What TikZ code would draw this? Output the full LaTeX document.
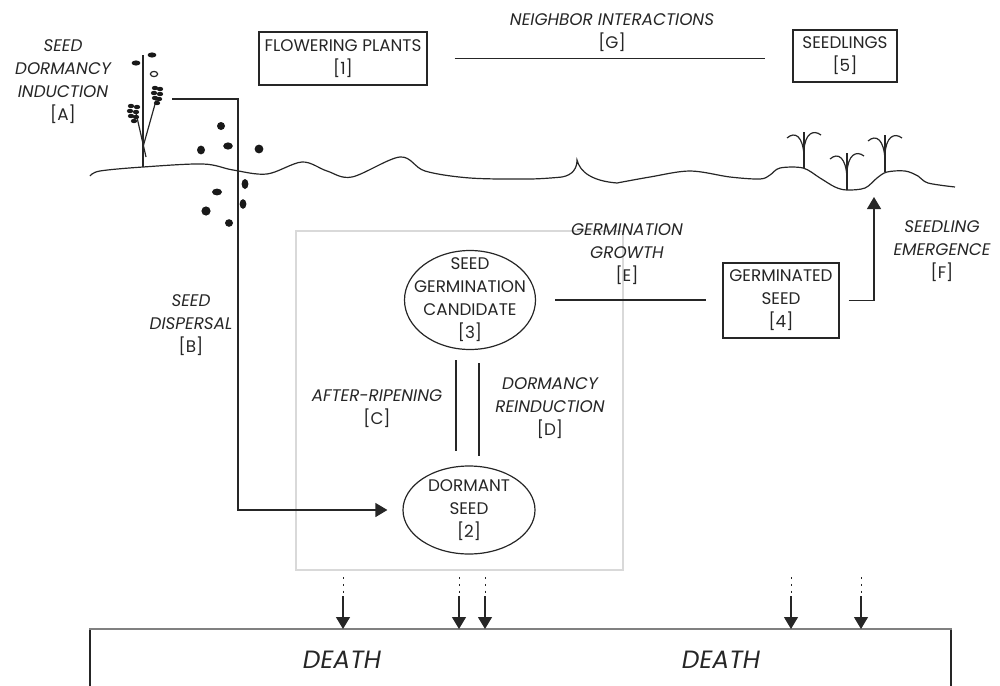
\documentclass[tikz,border=0pt]{standalone}
\usepackage{fontspec}
\setmainfont{Poppins}
\usetikzlibrary{shapes.geometric, arrows.meta, positioning}

\begin{document}
\begin{tikzpicture}[x=0.5pt, y=-0.5pt,
        every node/.style={font=\fontsize{8.4}{11.5}\selectfont, text=black!85},
        stage/.style={rectangle, draw=black!85, line width=0.6pt, align=center, inner sep=0pt},
        state/.style={ellipse, draw=black!85, line width=0.6pt, inner sep=0pt},
        statetext/.style={align=center, inner sep=0pt},
        note/.style={align=center, inner sep=0pt, font=\fontsize{8.4}{11.5}\selectfont\itshape},
        doom/.style={inner sep=0pt, font=\fontsize{12.5}{15}\selectfont\itshape},
        link/.style={draw=black!85, line width=0.6pt},
        arr/.style={link, -{Triangle[length=6pt, width=7pt]}},
        seed/.style={fill=black!90}
    ]
        \useasboundingbox (0,0) rectangle (1000,685);

        % Ground surface
        \draw[link] plot[smooth, tension=0.55] coordinates {(90,176) (100,171) (143,167) (203,164) (233,170) (267,174) (302,162) (327,171) (352,177) (400,157) (425,171) (470,178) (530,179) (562,177)}
            .. controls (573,175) and (577,168) .. (577,160)
            .. controls (580,172) and (592,181) .. (617,183)
            -- plot[smooth, tension=0.55] coordinates {(617,183) (650,177) (690,171) (730,177) (760,179) (770,175) (780,168) (803,168) (820,178) (835,187) (847,190) (865,188) (877,178) (887,172) (905,171) (918,176) (928,183) (955,187)};

        % Parent plant with its seeds
        \draw[link] (143,55) -- (143,167);
        \draw[link] (146,157) -- (136,113);
        \draw[link] (143,147) -- (157,97);
        \foreach \dx/\dy in {-3/-6, 3/-5, -4/-1, 2/0, -3/4, 2/5, 0/9}
            \fill[seed] (134+\dx,112+\dy) ellipse [x radius=1.6pt, y radius=1.1pt];
        \foreach \dx/\dy in {-2/-7, 3/-6, -3/-2, 3/-1, -2/3, 2/4, 0/8}
            \fill[seed] (157+\dx,95+\dy) ellipse [x radius=1.6pt, y radius=1.1pt];
        \fill[seed] (136,63) ellipse [x radius=2.2pt, y radius=1.3pt];
        \fill[seed] (152,55) ellipse [x radius=2.2pt, y radius=1.3pt];
        \draw[link] (154,74) ellipse [x radius=1.8pt, y radius=1.3pt];
        \foreach \sx/\sy/\rx/\ry in {221/126/2/2, 201/150/2/2.2, 228/146/2.4/1.8, 259/149/2.2/2.2, 245/184/1.7/2.5, 217/192/2.5/1.7, 243/204/1.7/2.4, 206/211/2.3/2.3, 229/223/2/1.9}
            \fill[seed] (\sx,\sy) ellipse [x radius=\rx pt, y radius=\ry pt];

        % Seedlings
        \foreach \sx/\sy/\st in {804/168/132, 847/190/153, 885/172/135} {
            \draw[link] (\sx,\sy) -- (\sx,\st);
            \draw[link] (\sx,\sy-12) .. controls (\sx-1,\st+4) and (\sx-9,\st-1) .. (\sx-17,\st+6);
            \draw[link] (\sx,\sy-18) .. controls (\sx+1,\st+2) and (\sx+9,\st-3) .. (\sx+17,\st+3);
        }

        % Seed bank frame
        \node (bank) [rectangle, draw=black!15, line width=0.6pt, minimum width=163.5pt, minimum height=169.5pt] at (459.5,400.5) {};

        % Life stages
        \node (flower) [stage, minimum width=84pt, minimum height=26.5pt] at (343,58.5) {FLOWERING PLANTS\\{[1]}};
        \node (seedl) [stage, minimum width=52pt, minimum height=26pt] at (845,56) {SEEDLINGS\\{[5]}};
        \node (germ) [stage, minimum width=58pt, minimum height=37.5pt] at (781,300.5) {GERMINATED\\SEED\\{[4]}};
        \node (cand) [state, minimum width=65.5pt, minimum height=49.5pt,
            label={[statetext]center:{SEED\\GERMINATION\\CANDIDATE\\{[3]}}}] at (470,300) {};
        \node (dormant) [state, minimum width=66pt, minimum height=44pt,
            label={[statetext]center:{DORMANT\\SEED\\{[2]}}}] at (469,510) {};

        % Processes
        \node (induct) [note] at (63,82) {SEED\\DORMANCY\\INDUCTION\\{\upshape [A]}};
        \node (disperse) [note] at (191,325) {SEED\\DISPERSAL\\{\upshape [B]}};
        \node (ripen) [note] at (377,408.5) {AFTER-RIPENING\\{\upshape [C]}};
        \node (reinduce) [note] at (550,408.5) {DORMANCY\\REINDUCTION\\{\upshape [D]}};
        \node (growth) [note] at (627,254.5) {GERMINATION\\GROWTH\\{\upshape [E]}};
        \node (emerge) [note] at (942,251.5) {SEEDLING\\EMERGENCE\\{\upshape [F]}};
        \node (neighbor) [note] at (612,32.5) {NEIGHBOR INTERACTIONS\\{\upshape [G]}};

        % Connectors
        \coordinate (release) at (172,99);
        \coordinate (drop) at (238,99);
        \draw[arr, shorten >=7.5pt] (release) -- (drop) -- (drop |- dormant.west) -- (dormant.west);
        \draw[link, shorten <=13.5pt, shorten >=13.5pt] (flower.east) -- (flower.east -| seedl.west);
        \draw[link, shorten <=9.5pt, shorten >=8pt] (cand.east) -- (cand.east -| germ.west);
        \draw[link, shorten <=5pt, shorten >=7pt] ([xshift=-7pt]cand.south) -- ([xshift=-7pt]cand.south |- dormant.north);
        \draw[link, shorten <=6.5pt, shorten >=4.5pt] ([xshift=4.5pt]cand.south) -- ([xshift=4.5pt]cand.south |- dormant.north);
        \coordinate (sprout) at (874,197);
        \draw[arr] ([xshift=4.5pt]germ.east) -| (sprout);

        % Death
        \node (death) [rectangle, draw=black!85, line width=0.6pt, minimum width=430.5pt, minimum height=60pt, anchor=north] at (520.5,629) {};
        \draw[draw=black!50, line width=0.6pt] (death.north west) -- (death.north east);
        \node (death1) [doom] at (342,660) {DEATH};
        \node (death2) [doom] at (721,660) {DEATH};
        \foreach \x/\n in {343/1, 459/2, 485/3, 791/4, 861/5} {
            \coordinate (fade\n) at (\x,577);
            \coordinate (fall\n) at (\x,596);
            \draw[link, line width=0.5pt, dash pattern=on 1.2pt off 2.2pt] (fade\n) -- (fall\n);
            \draw[arr] (fall\n) -- (fall\n |- death.north);
        }

    \end{tikzpicture}
\end{document}
